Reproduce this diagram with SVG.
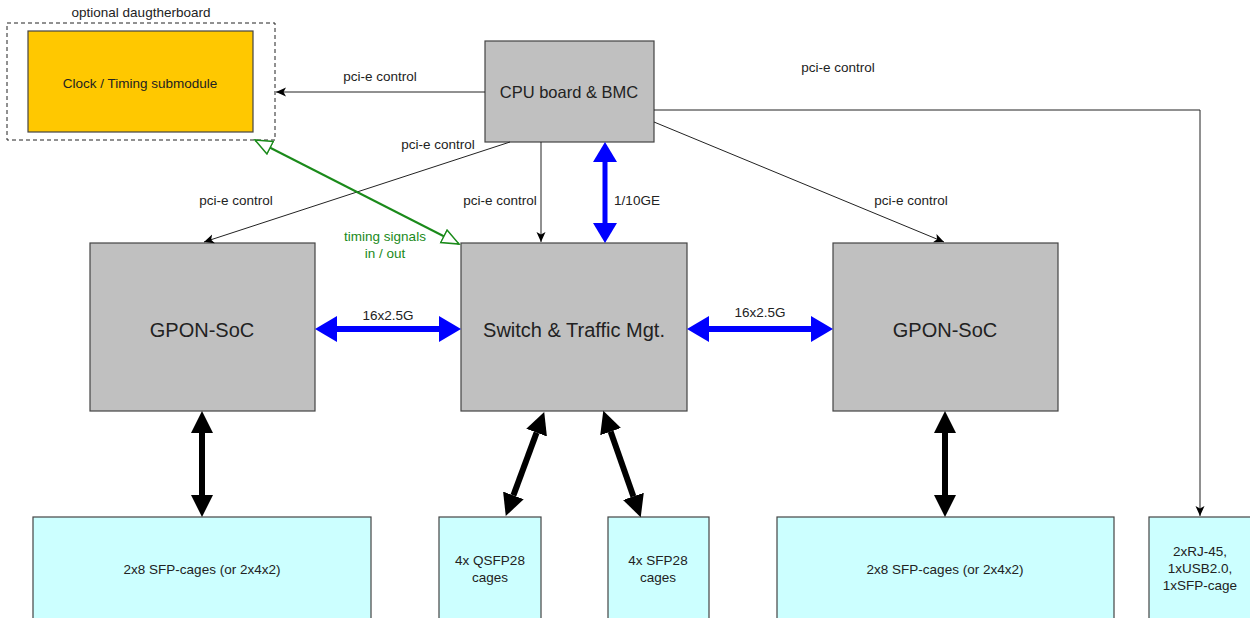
<svg xmlns="http://www.w3.org/2000/svg" width="1250" height="618" viewBox="0 0 1250 618">
<style>
text{font-family:"Liberation Sans",Arial,sans-serif;fill:#222;text-anchor:middle}
.s{font-size:13.5px}
.m{font-size:16.5px}
.l{font-size:20px}
.g{fill:#c0c0c0;stroke:#444;stroke-width:1.2}
.c{fill:#ccffff;stroke:#444;stroke-width:1.2}
.thin{stroke:#222;stroke-width:1;fill:none}
.blue{stroke:#0000ff;stroke-width:6;fill:none}
.blk{stroke:#000;stroke-width:6;fill:none}
.grn{stroke:#1a8a1a;stroke-width:2;fill:none}
</style>
<defs>
<marker id="ah" markerUnits="userSpaceOnUse" markerWidth="12" markerHeight="10" viewBox="0 -5 12 10" refX="10" refY="0" orient="auto">
<path d="M0,-4.5 L10,0 L0,4.5 L2.5,0 z" fill="#000"/>
</marker>
<marker id="bh" markerUnits="userSpaceOnUse" markerWidth="24" markerHeight="28" viewBox="0 -14 24 28" refX="0" refY="0" orient="auto-start-reverse">
<path d="M0,-13 L22,0 L0,13 z" fill="#0000ff"/>
</marker>
<marker id="bv" markerUnits="userSpaceOnUse" markerWidth="22" markerHeight="26" viewBox="0 -13 22 26" refX="0" refY="0" orient="auto-start-reverse">
<path d="M0,-12 L20,0 L0,12 z" fill="#0000ff"/>
</marker>
<marker id="kh" markerUnits="userSpaceOnUse" markerWidth="24" markerHeight="26" viewBox="0 -13 24 26" refX="0" refY="0" orient="auto-start-reverse">
<path d="M0,-11 L22,0 L0,11 z" fill="#000"/>
</marker>
<marker id="gh" markerUnits="userSpaceOnUse" markerWidth="20" markerHeight="20" viewBox="-1 -10 20 20" refX="17" refY="0" orient="auto-start-reverse">
<path d="M0,-7 L17,0 L0,7 z" fill="#fff" stroke="#1a8a1a" stroke-width="1.5"/>
</marker>
</defs>

<g id="daughterboard">
<rect x="7" y="23" width="268" height="117" fill="none" stroke="#222" stroke-width="1" stroke-dasharray="4,3"/>
<text class="s" x="141" y="17">optional daugtherboard</text>
</g>
<g id="clock">
<rect x="28" y="31" width="225" height="101" fill="#ffc800" stroke="#444" stroke-width="1.2"/>
<text class="s" x="140" y="88">Clock / Timing submodule</text>
</g>
<g id="cpu">
<rect class="g" x="485" y="41" width="169" height="101"/>
<text class="m" x="569" y="98">CPU board &amp; BMC</text>
</g>
<g id="gpon-left">
<rect class="g" x="90" y="243" width="225" height="168"/>
<text class="l" x="202" y="337">GPON-SoC</text>
</g>
<g id="switch">
<rect class="g" x="461" y="243" width="226" height="168"/>
<text class="l" x="574" y="337">Switch &amp; Traffic Mgt.</text>
</g>
<g id="gpon-right">
<rect class="g" x="833" y="243" width="225" height="168"/>
<text class="l" x="945" y="337">GPON-SoC</text>
</g>
<g id="sfp-left">
<rect class="c" x="33" y="517" width="338" height="110"/>
<text class="s" x="202" y="574">2x8 SFP-cages (or 2x4x2)</text>
</g>
<g id="qsfp28">
<rect class="c" x="439" y="517" width="102" height="110"/>
<text class="s" x="490" y="565">4x QSFP28</text>
<text class="s" x="490" y="582">cages</text>
</g>
<g id="sfp28">
<rect class="c" x="608" y="517" width="101" height="110"/>
<text class="s" x="658" y="565">4x SFP28</text>
<text class="s" x="658" y="582">cages</text>
</g>
<g id="sfp-right">
<rect class="c" x="777" y="517" width="337" height="110"/>
<text class="s" x="945" y="574">2x8 SFP-cages (or 2x4x2)</text>
</g>
<g id="mgmt-ports">
<rect class="c" x="1149" y="517" width="110" height="110"/>
<text class="s" x="1200" y="556">2xRJ-45,</text>
<text class="s" x="1200" y="573">1xUSB2.0,</text>
<text class="s" x="1200" y="590">1xSFP-cage</text>
</g>

<g id="connectors">
<path class="thin" d="M485,92 L276,92" marker-end="url(#ah)"/>
<text class="s" x="380" y="81">pci-e control</text>
<path class="thin" d="M654,110 L1200,110 L1200,516" marker-end="url(#ah)"/>
<text class="s" x="838" y="72">pci-e control</text>
<path class="thin" d="M654,122 L944,242" marker-end="url(#ah)"/>
<text class="s" x="911" y="205">pci-e control</text>
<path class="thin" d="M541,142 L541,242" marker-end="url(#ah)"/>
<text class="s" x="500" y="205">pci-e control</text>
<path class="thin" d="M510,142 L204,242" marker-end="url(#ah)"/>
<text class="s" x="438" y="149">pci-e control</text>
<text class="s" x="236" y="205">pci-e control</text>
<path class="blue" style="stroke-width:5" d="M605,162 L605,223" marker-start="url(#bv)" marker-end="url(#bv)"/>
<text class="s" x="637" y="205">1/10GE</text>
<path class="blue" d="M337,329 L439,329" marker-start="url(#bh)" marker-end="url(#bh)"/>
<text class="s" x="388" y="320">16x2.5G</text>
<path class="blue" d="M709,329 L811,329" marker-start="url(#bh)" marker-end="url(#bh)"/>
<text class="s" x="760" y="317">16x2.5G</text>
<path class="grn" d="M255,140 L459,244" marker-start="url(#gh)" marker-end="url(#gh)"/>
<text class="s" x="385" y="241" style="fill:#1a8a1a">timing signals</text>
<text class="s" x="385" y="258" style="fill:#1a8a1a">in / out</text>
<path class="blk" d="M202,433 L202,495" marker-start="url(#kh)" marker-end="url(#kh)"/>
<path class="blk" d="M536.6,432.6 L513.4,495.4" marker-start="url(#kh)" marker-end="url(#kh)"/>
<path class="blk" d="M610.6,431.6 L633.4,496.4" marker-start="url(#kh)" marker-end="url(#kh)"/>
<path class="blk" d="M945,433 L945,495" marker-start="url(#kh)" marker-end="url(#kh)"/>
</g>
</svg>
